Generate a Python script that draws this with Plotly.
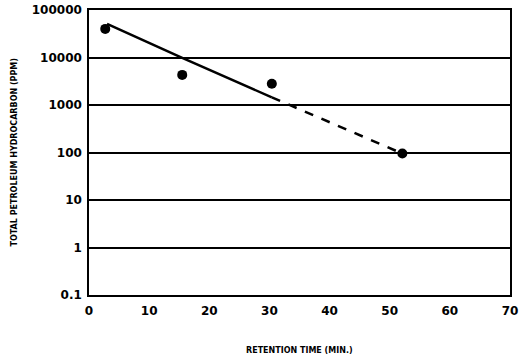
import plotly.graph_objects as go

# Measured data points
x_points = [2.7, 15.5, 30.4, 52.1]
y_points = [40000, 4300, 2800, 95]

# Fitted curve: solid portion and dashed extrapolation
x_solid = [3.0, 15.5, 30.4]
y_solid = [51000, 9800, 1450]
x_dash = [30.4, 52.1]
y_dash = [1450, 95]

y_tick_vals = [0.1, 1, 10, 100, 1000, 10000, 100000]
y_tick_text = ["0.1", "1", "10", "100", "1000", "10000", "100000"]
x_tick_vals = [0, 10, 20, 30, 40, 50, 60, 70]
x_tick_text = ["0", "10", "20", "30", "40", "50", "60", "70"]

fig = go.Figure()
fig.add_trace(go.Scatter(x=x_solid, y=y_solid, mode="lines",
                         line=dict(color="black", width=2.5), showlegend=False))
fig.add_trace(go.Scatter(x=x_dash, y=y_dash, mode="lines",
                         line=dict(color="black", width=2.5, dash="dash"), showlegend=False))
fig.add_trace(go.Scatter(x=x_points, y=y_points, mode="markers",
                         marker=dict(color="black", size=10), showlegend=False))

tickfont = dict(family="DejaVu Sans", size=12, color="black", weight="bold")
titlefont = dict(family="DejaVu Sans", size=8, color="black", weight="bold")
fig.update_layout(
    width=520, height=360,
    margin=dict(l=89, r=10, t=10, b=65),
    paper_bgcolor="white", plot_bgcolor="white",
    xaxis=dict(range=[0, 70], tickvals=x_tick_vals, ticktext=x_tick_text,
               showgrid=False, zeroline=False, showline=True, linecolor="black",
               linewidth=1.5, mirror=True, ticks="", tickfont=tickfont,
               ticklabelstandoff=4, ticklabeloverflow="allow", automargin=False),
    yaxis=dict(type="log", range=[-1, 5], tickvals=y_tick_vals, ticktext=y_tick_text,
               showgrid=True, gridcolor="black", gridwidth=1.5, zeroline=False,
               showline=True, linecolor="black", linewidth=1.5, mirror=True,
               ticks="", tickfont=tickfont, ticklabelstandoff=3,
               ticklabeloverflow="allow", automargin=False),
    annotations=[
        dict(text="RETENTION TIME (MIN.)", xref="paper", yref="paper", x=0.5, y=0,
             yanchor="top", yshift=-49, showarrow=False, font=titlefont),
        dict(text="TOTAL PETROLEUM HYDROCARBON (PPM)", xref="paper", yref="paper",
             x=0, y=0.5, xanchor="center", xshift=-75, textangle=-90,
             showarrow=False, font=titlefont),
    ],
)
fig.write_html("out.html", config={"displayModeBar": False},
               post_script="document.body.style.margin='0';document.body.style.overflow='hidden';")
